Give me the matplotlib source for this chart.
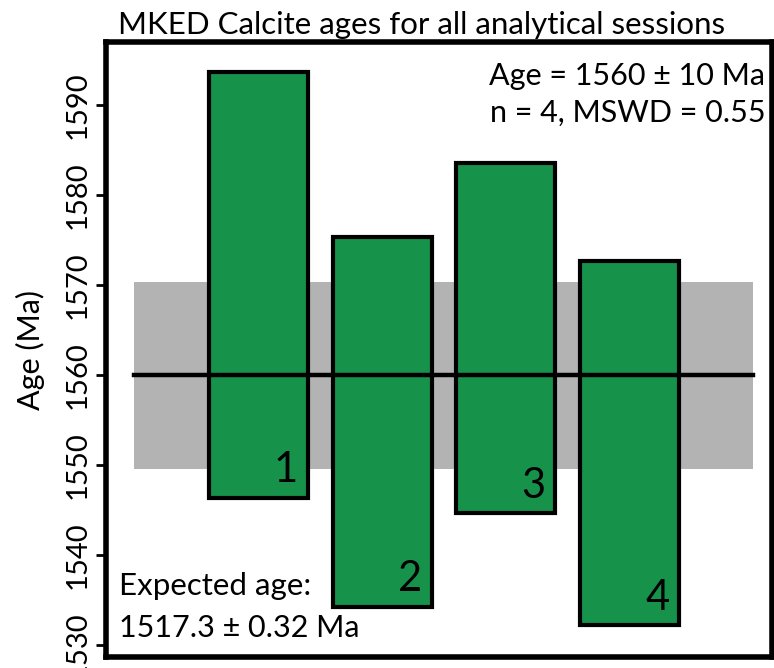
import matplotlib

matplotlib.use('Agg')
import matplotlib.pyplot as plt

plt.rcParams['font.family'] = ['Lato', 'DejaVu Sans']

# session ages (Ma), 2-sigma box limits
sessions = [1, 2, 3, 4]
box_top = [1593.7, 1575.3, 1583.6, 1572.7]
box_bottom = [1546.4, 1534.3, 1544.7, 1532.2]

# weighted mean and its uncertainty band
mean_age = 1560.0
mean_err = 10.4
yticks = [1530, 1540, 1550, 1560, 1570, 1580, 1590]

green = '#16924a'

fig = plt.figure(figsize=(7.74, 6.68), dpi=100)
ax = fig.add_axes([106 / 774, 11 / 668, 666 / 774, 615 / 668])

# grey band for the mean +/- error
ax.fill_between([0, 5], mean_age - mean_err, mean_age + mean_err,
                color='#b3b3b3', lw=0, zorder=1)

for s, top, bot in zip(sessions, box_top, box_bottom):
    ax.bar(s, top - bot, bottom=bot, width=0.8, color=green,
           edgecolor='black', linewidth=3, zorder=2)
    ax.annotate(str(s), xy=(s + 0.4, bot), xytext=(-7, 6),
                textcoords='offset points', ha='right', va='bottom',
                fontsize=30, zorder=4)

ax.plot([0, 5], [mean_age, mean_age], color='black', lw=3.2, zorder=3)

ax.set_xlim(-0.23, 5.15)
ax.set_ylim(1528.7, 1597.0)
ax.set_xticks([])
ax.set_yticks(yticks)
ax.set_yticklabels([str(t) for t in yticks], rotation=90, va='center', fontsize=21)
ax.tick_params(axis='y', length=7, width=2, direction='out', pad=4)
ax.set_ylabel('Age (Ma)', fontsize=22)
ax.yaxis.set_label_coords(-0.092, 0.5)

for sp in ax.spines.values():
    sp.set_linewidth(4)

fig.text(422 / 774, 1 - 25 / 668, 'MKED Calcite ages for all analytical sessions',
         ha='center', va='center', fontsize=22.5)

ax.text(0.99, 0.945, 'Age = 1560 ± 10 Ma', transform=ax.transAxes,
        ha='right', va='center', fontsize=22)
ax.text(0.99, 0.885, 'n = 4, MSWD = 0.55', transform=ax.transAxes,
        ha='right', va='center', fontsize=22)
ax.text(0.02, 0.115, 'Expected age:', transform=ax.transAxes,
        ha='left', va='center', fontsize=22.5)
ax.text(0.02, 0.047, '1517.3 ± 0.32 Ma', transform=ax.transAxes,
        ha='left', va='center', fontsize=22)

fig.savefig('out.png', dpi=100)
